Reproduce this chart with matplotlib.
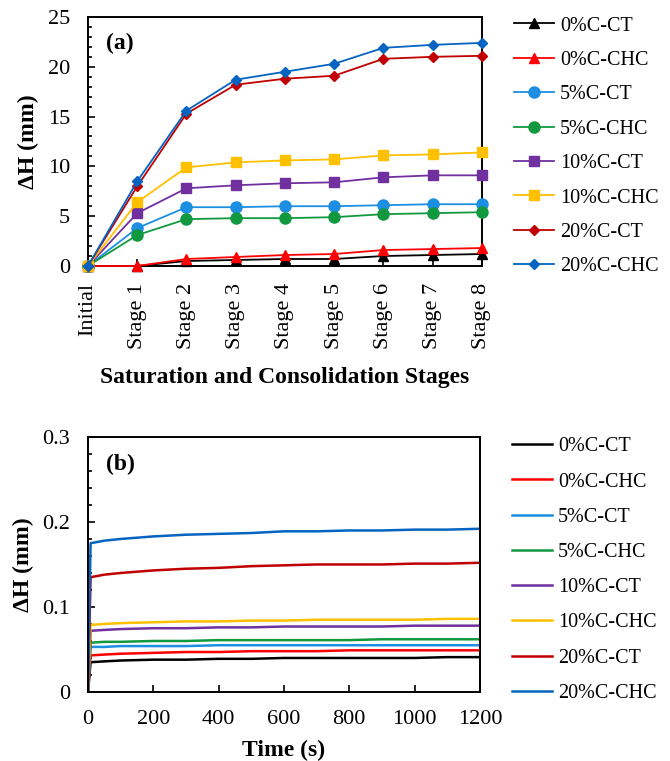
import matplotlib
matplotlib.use("Agg")
import matplotlib.pyplot as plt
from matplotlib.ticker import MultipleLocator, FuncFormatter

plt.rcParams["font.family"] = ["Liberation Serif", "DejaVu Serif"]

# --- Data: panel (a) ---
stages = ["Initial", "Stage 1", "Stage 2", "Stage 3", "Stage 4",
          "Stage 5", "Stage 6", "Stage 7", "Stage 8"]
labels = ["0%C-CT", "0%C-CHC", "5%C-CT", "5%C-CHC",
          "10%C-CT", "10%C-CHC", "20%C-CT", "20%C-CHC"]
dh_0ct = [0, 0.0, 0.5, 0.6, 0.7, 0.7, 1.0, 1.1, 1.2]
dh_0chc = [0, 0.0, 0.7, 0.9, 1.1, 1.2, 1.6, 1.7, 1.8]
dh_5ct = [0, 3.8, 5.9, 5.9, 6.0, 6.0, 6.1, 6.2, 6.2]
dh_5chc = [0, 3.1, 4.7, 4.8, 4.8, 4.9, 5.2, 5.3, 5.4]
dh_10ct = [0, 5.3, 7.8, 8.1, 8.3, 8.4, 8.9, 9.1, 9.1]
dh_10chc = [0, 6.4, 9.9, 10.4, 10.6, 10.7, 11.1, 11.2, 11.4]
dh_20ct = [0, 8.0, 15.3, 18.2, 18.8, 19.1, 20.8, 21.0, 21.1]
dh_20chc = [0, 8.5, 15.6, 18.7, 19.5, 20.3, 21.9, 22.2, 22.4]

# --- Data: panel (b) ---
time_s = [0, 8, 50, 100, 200, 300, 400, 500, 600, 700, 800, 900, 1000, 1100, 1200]
t_0ct = [0, 0.035, 0.036, 0.037, 0.038, 0.038, 0.039, 0.039, 0.040, 0.040, 0.040, 0.040, 0.040, 0.041, 0.041]
t_0chc = [0, 0.043, 0.044, 0.045, 0.046, 0.047, 0.047, 0.048, 0.048, 0.048, 0.049, 0.049, 0.049, 0.049, 0.049]
t_5ct = [0, 0.053, 0.053, 0.054, 0.054, 0.054, 0.055, 0.055, 0.055, 0.055, 0.055, 0.055, 0.055, 0.055, 0.055]
t_5chc = [0, 0.058, 0.059, 0.059, 0.060, 0.060, 0.061, 0.061, 0.061, 0.061, 0.061, 0.062, 0.062, 0.062, 0.062]
t_10ct = [0, 0.072, 0.073, 0.074, 0.075, 0.075, 0.076, 0.076, 0.077, 0.077, 0.077, 0.077, 0.078, 0.078, 0.078]
t_10chc = [0, 0.079, 0.080, 0.081, 0.082, 0.083, 0.083, 0.084, 0.084, 0.085, 0.085, 0.085, 0.085, 0.086, 0.086]
t_20ct = [0, 0.135, 0.138, 0.140, 0.143, 0.145, 0.146, 0.148, 0.149, 0.150, 0.150, 0.150, 0.151, 0.151, 0.152]
t_20chc = [0, 0.175, 0.178, 0.180, 0.183, 0.185, 0.186, 0.187, 0.189, 0.189, 0.190, 0.190, 0.191, 0.191, 0.192]

colors = ["#000000", "#FF0000", "#1C8FE3", "#12993F",
          "#7030A0", "#FFC000", "#C00000", "#0563C1"]
markers = ["^", "^", "o", "o", "s", "s", "D", "D"]
msizes = [7.5, 7.5, 8, 8, 7.5, 7.5, 5.5, 5.5]

fig = plt.figure(figsize=(6.7, 7.61), dpi=100)
ax1 = fig.add_axes([0.1313, 0.6505, 0.588, 0.3272])
ax2 = fig.add_axes([0.1313, 0.0907, 0.585, 0.3351])

TICK_FS = 16
LAB_FS = 17
LEG_FS = 14.5

# --- Panel (a) ---
series_a = [dh_0ct, dh_0chc, dh_5ct, dh_5chc, dh_10ct, dh_10chc, dh_20ct, dh_20chc]
x = list(range(len(stages)))
for vals, lab, c, m, ms in zip(series_a, labels, colors, markers, msizes):
    ax1.plot(x, vals, color=c, marker=m, markersize=ms, linewidth=1.3,
             label=lab, clip_on=False, zorder=3)
ax1.set_xlim(0, 8)
ax1.set_ylim(0, 25)
ax1.set_xticks(x)
ax1.set_xticklabels(stages, rotation=90)
ax1.yaxis.set_major_locator(MultipleLocator(5))
ax1.yaxis.set_minor_locator(MultipleLocator(1))
ax1.set_ylabel("ΔH (mm)", fontsize=LAB_FS, fontweight="bold", labelpad=6)
ax1.set_xlabel("Saturation and Consolidation Stages", fontsize=LAB_FS,
               fontweight="bold", labelpad=13)
ax1.text(0.045, 0.87, "(a)", transform=ax1.transAxes, fontsize=LAB_FS, fontweight="bold")
ax1.tick_params(axis="x", pad=12)
ax1.legend(loc="upper left", bbox_to_anchor=(1.035, 1.075), frameon=False,
           fontsize=LEG_FS, handlelength=2.0, handletextpad=0.3, labelspacing=0.76)

# --- Panel (b) ---
series_b = [t_0ct, t_0chc, t_5ct, t_5chc, t_10ct, t_10chc, t_20ct, t_20chc]
for vals, lab, c in zip(series_b, labels, colors):
    ax2.plot(time_s, vals, color=c, linewidth=1.8, label=lab)
ax2.set_xlim(0, 1200)
ax2.set_ylim(0, 0.3)
ax2.xaxis.set_major_locator(MultipleLocator(200))
ax2.yaxis.set_major_locator(MultipleLocator(0.1))
ax2.yaxis.set_minor_locator(MultipleLocator(0.02))
ax2.yaxis.set_major_formatter(FuncFormatter(lambda v, p: f"{round(v, 2):g}"))
ax2.set_ylabel("ΔH (mm)", fontsize=LAB_FS, fontweight="bold", labelpad=6)
ax2.set_xlabel("Time (s)", fontsize=LAB_FS, fontweight="bold", labelpad=8)
ax2.text(0.045, 0.87, "(b)", transform=ax2.transAxes, fontsize=LAB_FS, fontweight="bold")
ax2.tick_params(axis="x", pad=13)
ax2.legend(loc="upper left", bbox_to_anchor=(1.035, 1.07), frameon=False,
           fontsize=LEG_FS, handlelength=2.0, handletextpad=0.3, labelspacing=0.80)

for ax in (ax1, ax2):
    ax.tick_params(which="both", direction="in", labelsize=TICK_FS, width=1.2)
    ax.tick_params(axis="y", pad=13)
    ax.tick_params(which="major", length=5)
    ax.tick_params(which="minor", length=3)
    for sp in ax.spines.values():
        sp.set_linewidth(1.4)

fig.savefig("out.png", dpi=100)
